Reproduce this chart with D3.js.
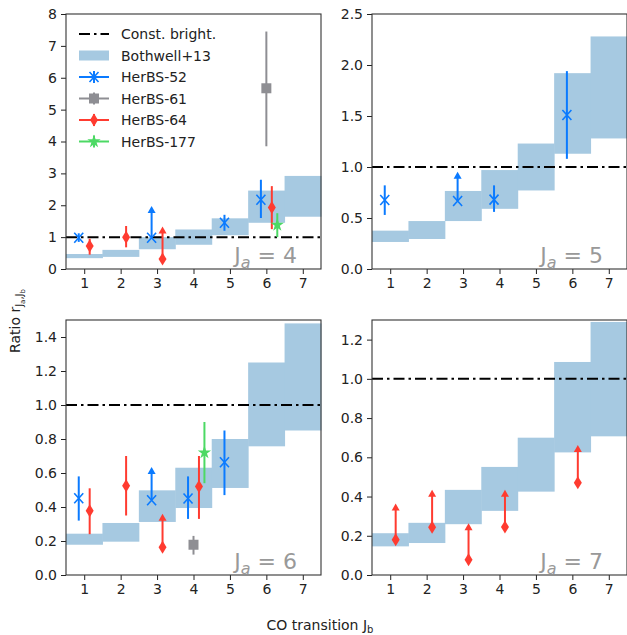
<!DOCTYPE html>
<html>
<head>
	<style>
		body { margin: 0; background: white; }
		svg text { font-family: "DejaVu Sans", sans-serif; }
	</style>
	<script src="https://d3js.org/d3.v7.min.js"></script>
</head>
<body>
	<svg id="chart" width="627" height="635"></svg>
<script>
// CO line ratios r_{Ja,Jb} vs Jb, one panel per Ja

const jb = [1, 2, 3, 4, 5, 6, 7];

// Bothwell+13 ranges (low / high) per Ja
const bothLow4  = [0.34, 0.38, 0.62, 0.76, 1.06, 1.45, 1.64];
const bothHigh4 = [0.47, 0.60, 1.00, 1.24, 1.59, 2.46, 2.92];
const bothLow5  = [0.265, 0.294, 0.47, 0.59, 0.77, 1.13, 1.28];
const bothHigh5 = [0.376, 0.47, 0.765, 0.97, 1.23, 1.92, 2.28];
const bothLow6  = [0.178, 0.196, 0.312, 0.394, 0.512, 0.757, 0.85];
const bothHigh6 = [0.243, 0.306, 0.498, 0.631, 0.80, 1.25, 1.48];
const bothLow7  = [0.146, 0.163, 0.259, 0.327, 0.425, 0.625, 0.707];
const bothHigh7 = [0.213, 0.266, 0.434, 0.551, 0.70, 1.086, 1.29];

// measured ratios: ja, jb, value, error low, error high, arrow tip (lower limit)
const herbs52 = [
	{ja: 4, jb: 1, y: 0.98, lo: 0.85, hi: 1.12},
	{ja: 4, jb: 3, y: 0.98, tip: 1.98},
	{ja: 4, jb: 5, y: 1.45, lo: 1.20, hi: 1.70},
	{ja: 4, jb: 6, y: 2.17, lo: 1.60, hi: 2.80},
	{ja: 5, jb: 1, y: 0.676, lo: 0.53, hi: 0.82},
	{ja: 5, jb: 3, y: 0.667, tip: 0.954},
	{ja: 5, jb: 4, y: 0.68, lo: 0.56, hi: 0.82},
	{ja: 5, jb: 6, y: 1.51, lo: 1.08, hi: 1.94},
	{ja: 6, jb: 1, y: 0.451, lo: 0.32, hi: 0.58},
	{ja: 6, jb: 3, y: 0.44, tip: 0.635},
	{ja: 6, jb: 4, y: 0.45, lo: 0.33, hi: 0.58},
	{ja: 6, jb: 5, y: 0.663, lo: 0.47, hi: 0.85}
];
const herbs61 = [
	{ja: 4, jb: 6, y: 5.67, lo: 3.85, hi: 7.45},
	{ja: 6, jb: 4, y: 0.178, lo: 0.12, hi: 0.23}
];
const herbs64 = [
	{ja: 4, jb: 1, y: 0.72, lo: 0.45, hi: 0.95},
	{ja: 4, jb: 2, y: 1.00, lo: 0.68, hi: 1.35},
	{ja: 4, jb: 3, y: 0.31, tip: 1.33},
	{ja: 4, jb: 6, y: 1.93, lo: 1.25, hi: 2.60},
	{ja: 6, jb: 1, y: 0.378, lo: 0.24, hi: 0.51},
	{ja: 6, jb: 2, y: 0.525, lo: 0.35, hi: 0.70},
	{ja: 6, jb: 3, y: 0.163, tip: 0.36},
	{ja: 6, jb: 4, y: 0.52, lo: 0.33, hi: 0.70},
	{ja: 7, jb: 1, y: 0.18, tip: 0.364},
	{ja: 7, jb: 2, y: 0.244, tip: 0.434},
	{ja: 7, jb: 3, y: 0.078, tip: 0.264},
	{ja: 7, jb: 4, y: 0.245, tip: 0.434},
	{ja: 7, jb: 6, y: 0.47, tip: 0.663}
];
const herbs177 = [
	{ja: 4, jb: 6, y: 1.38, lo: 1.00, hi: 1.75},
	{ja: 6, jb: 4, y: 0.72, lo: 0.54, hi: 0.90}
];

const yTicks4 = [0, 1, 2, 3, 4, 5, 6, 7, 8];
const yTicks5 = [0, 0.5, 1.0, 1.5, 2.0, 2.5];
const yTicks6 = [0, 0.2, 0.4, 0.6, 0.8, 1.0, 1.2, 1.4];
const yTicks7 = [0, 0.2, 0.4, 0.6, 0.8, 1.0, 1.2];

const legendNames = ["Const. bright.", "Bothwell+13", "HerBS-52", "HerBS-61", "HerBS-64", "HerBS-177"];

const bandColor = "#a6c9e1";
const series = [
	{name: "HerBS-52", data: herbs52, color: "#0a7aff", shape: "x", dx: -0.15},
	{name: "HerBS-61", data: herbs61, color: "#8e8e93", shape: "square", dx: 0},
	{name: "HerBS-64", data: herbs64, color: "#ff3b30", shape: "diamond", dx: 0.15},
	{name: "HerBS-177", data: herbs177, color: "#4cd964", shape: "star", dx: 0.3}
];

const panels = [
	{ja: 4, left: 66, top: 14, ymax: 8, ticks: yTicks4, fmt: d3.format("d"), low: bothLow4, high: bothHigh4},
	{ja: 5, left: 372, top: 14, ymax: 2.5, ticks: yTicks5, fmt: d3.format(".1f"), low: bothLow5, high: bothHigh5},
	{ja: 6, left: 66, top: 320, ymax: 1.5, ticks: yTicks6, fmt: d3.format(".1f"), low: bothLow6, high: bothHigh6},
	{ja: 7, left: 372, top: 320, ymax: 1.3, ticks: yTicks7, fmt: d3.format(".1f"), low: bothLow7, high: bothHigh7}
];
const pw = 255, ph = 255;
const fs = "14px";

const svg = d3.select("#chart");

function markerPath(shape) {
	if (shape == "x") return "M-4.5,-5L4.5,5M-4.5,5L4.5,-5";
	if (shape == "square") return "M-5,-5H5V5H-5Z";
	if (shape == "diamond") return "M0,-6.5L4,0L0,6.5L-4,0Z";
	// star
	return d3.symbol().type(d3.symbolStar).size(55)();
}

function drawMarker(g, shape, color, x, y) {
	let p = g.append("path")
		.attr("d", markerPath(shape))
		.attr("transform", "translate(" + x + "," + y + ")");
	if (shape == "x") {
		p.attr("fill", "none").attr("stroke", color).attr("stroke-width", 1.6);
	} else {
		p.attr("fill", color).attr("stroke", "none");
	}
}

panels.forEach(function(pan) {
	let x = d3.scaleLinear().domain([0.5, 7.5]).range([0, pw]);
	let y = d3.scaleLinear().domain([0, pan.ymax]).range([ph, 0]);

	let g = svg.append("g").attr("transform", "translate(" + pan.left + "," + pan.top + ")");

	// Bothwell bands
	g.selectAll("rect.band").data(jb).enter()
		.append("rect")
		.attr("class", "band")
		.attr("x", d => x(d - 0.5))
		.attr("width", x(1.5) - x(0.5) + 0.5)
		.attr("y", (d, i) => y(pan.high[i]))
		.attr("height", (d, i) => y(pan.low[i]) - y(pan.high[i]))
		.attr("fill", bandColor);

	// constant brightness
	g.append("line")
		.attr("x1", 0).attr("x2", pw)
		.attr("y1", y(1)).attr("y2", y(1))
		.attr("stroke", "black")
		.attr("stroke-width", 2)
		.attr("stroke-dasharray", "11,4,2.5,4");

	// data points
	series.forEach(function(s) {
		s.data.filter(d => d.ja == pan.ja).forEach(function(d) {
			let px = x(d.jb + s.dx);
			if (d.tip !== undefined) {
				g.append("line")
					.attr("x1", px).attr("x2", px)
					.attr("y1", y(d.y)).attr("y2", y(d.tip) + 6)
					.attr("stroke", s.color).attr("stroke-width", 2);
				g.append("path")
					.attr("d", "M" + (px - 4) + "," + (y(d.tip) + 7) + "L" + px + "," + y(d.tip) + "L" + (px + 4) + "," + (y(d.tip) + 7) + "Z")
					.attr("fill", s.color);
			} else {
				g.append("line")
					.attr("x1", px).attr("x2", px)
					.attr("y1", y(d.lo)).attr("y2", y(d.hi))
					.attr("stroke", s.color).attr("stroke-width", 2);
			}
			drawMarker(g, s.shape, s.color, px, y(d.y));
		});
	});

	// Ja label
	let lab = g.append("text")
		.attr("x", pw - 24)
		.attr("y", ph - 6)
		.attr("text-anchor", "end")
		.attr("fill", "#999999")
		.style("font-size", "22px");
	lab.append("tspan").text("J");
	lab.append("tspan").attr("dy", 5).style("font-size", "16px").style("font-style", "italic").text("a");
	lab.append("tspan").attr("dy", -5).text(" = " + pan.ja);

	// axes
	let xa = g.append("g").attr("transform", "translate(0," + ph + ")")
		.call(d3.axisBottom(x).tickValues(jb).tickSize(5).tickPadding(4).tickFormat(d3.format("d")));
	let ya = g.append("g")
		.call(d3.axisLeft(y).tickValues(pan.ticks).tickSize(5).tickPadding(4).tickFormat(pan.fmt));
	[xa, ya].forEach(function(a) {
		a.select(".domain").remove();
		a.selectAll("text").style("font-size", fs).attr("fill", "#222");
		a.selectAll("line").attr("stroke", "#222");
	});

	g.append("rect")
		.attr("x", 0).attr("y", 0).attr("width", pw).attr("height", ph)
		.attr("fill", "none").attr("stroke", "#333").attr("stroke-width", 1.1);
});

// legend in first panel
let leg = svg.append("g").attr("transform", "translate(79,34)");
legendNames.forEach(function(name, i) {
	let row = leg.append("g").attr("transform", "translate(0," + (i * 21.5) + ")");
	if (i == 0) {
		row.append("line").attr("x1", 0).attr("x2", 30).attr("y1", 0).attr("y2", 0)
			.attr("stroke", "black").attr("stroke-width", 2).attr("stroke-dasharray", "11,4,2.5,4");
	} else if (i == 1) {
		row.append("rect").attr("x", 0).attr("y", -5).attr("width", 30).attr("height", 10).attr("fill", bandColor);
	} else {
		let s = series[i - 2];
		row.append("line").attr("x1", 0).attr("x2", 30).attr("y1", 0).attr("y2", 0)
			.attr("stroke", s.color).attr("stroke-width", 2);
		row.append("line").attr("x1", 15).attr("x2", 15).attr("y1", -6).attr("y2", 6)
			.attr("stroke", s.color).attr("stroke-width", 2);
		drawMarker(row, s.shape, s.color, 15, 0);
	}
	row.append("text").attr("x", 42).attr("y", 5)
		.style("font-size", fs).attr("fill", "#222").text(name);
});

// axis titles
let xl = svg.append("text")
	.attr("x", 320).attr("y", 630)
	.attr("text-anchor", "middle")
	.style("font-size", fs).attr("fill", "#222");
xl.append("tspan").text("CO transition J");
xl.append("tspan").attr("dy", 3).style("font-size", "10px").text("b");

let yl = svg.append("text")
	.attr("transform", "translate(20,321) rotate(-90)")
	.attr("text-anchor", "middle")
	.style("font-size", fs).attr("fill", "#222");
yl.append("tspan").text("Ratio r");
yl.append("tspan").attr("dy", 3).style("font-size", "10px").text("J");
yl.append("tspan").attr("dy", 2).style("font-size", "7px").text("a");
yl.append("tspan").attr("dy", -2).style("font-size", "10px").text(",J");
yl.append("tspan").attr("dy", 2).style("font-size", "7px").text("b");
</script>
</body>
</html>
